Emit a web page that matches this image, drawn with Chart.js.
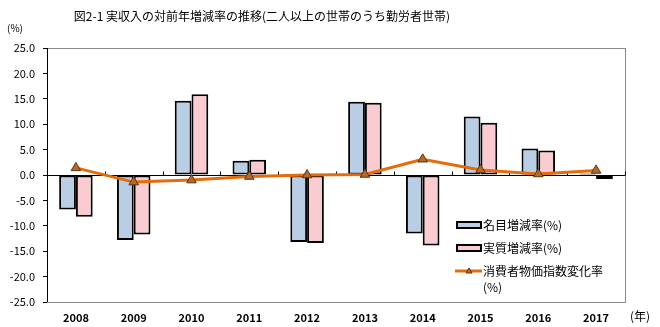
<!DOCTYPE html>
<html>
<head>
<meta charset="utf-8">
<script src="https://cdn.jsdelivr.net/npm/chart.js@4/dist/chart.umd.min.js"></script>
<style>
  html, body { margin: 0; padding: 0; background: #fff; }
  #wrap { width: 660px; height: 327px; }
</style>
</head>
<body>
<div id="wrap"><canvas id="chart" width="660" height="327"></canvas></div>
<script>
const years = ['2008', '2009', '2010', '2011', '2012', '2013', '2014', '2015', '2016', '2017'];
const nominalRate = [-6.8, -12.8, 14.6, 2.8, -13.2, 14.4, -11.5, 11.5, 5.2, 0.3];
const realRate = [-8.2, -11.7, 15.9, 3.0, -13.4, 14.2, -13.9, 10.3, 4.8, -0.8];
const cpiRate = [1.4, -1.4, -1.0, -0.3, 0.0, 0.1, 3.1, 1.0, 0.2, 0.9];
const seriesNames = ['名目増減率(%)', '実質増減率(%)', '消費者物価指数変化率', '(%)'];

const jpFont = '"Noto Sans CJK JP", "Noto Sans", sans-serif';
const blue = '#B9CDE5';
const pink = '#FACCD1';
const orange = '#E46C0A';

// title, unit labels, frame, axis ticks and legend drawn on the canvas
const extras = {
  id: 'extras',
  beforeDatasetsDraw(chart) {
    const { ctx, chartArea: a, scales } = chart;
    ctx.save();
    ctx.strokeStyle = '#8a8a8a';
    ctx.lineWidth = 1;
    ctx.strokeRect(a.left + 0.5, a.top + 0.5, a.right - a.left, a.bottom - a.top);
    ctx.strokeStyle = '#000';
    ctx.beginPath();
    ctx.moveTo(a.left + 0.5, a.top);
    ctx.lineTo(a.left + 0.5, a.bottom);
    ctx.stroke();
    // small ticks on the zero line between categories
    const y0 = Math.round(scales.y.getPixelForValue(0)) + 0.5;
    const step = (a.right - a.left) / years.length;
    ctx.beginPath();
    for (let i = 1; i <= years.length; i++) {
      const x = Math.round(a.left + step * i) + 0.5;
      ctx.moveTo(x, y0 - 4);
      ctx.lineTo(x, y0);
    }
    ctx.stroke();
    ctx.restore();
  },
  afterDraw(chart) {
    const { ctx } = chart;
    ctx.save();
    ctx.fillStyle = '#000';
    ctx.textBaseline = 'middle';
    ctx.font = '12px ' + jpFont;
    ctx.textAlign = 'center';
    ctx.fillText('図2-1 実収入の対前年増減率の推移(二人以上の世帯のうち勤労者世帯)', 262, 16);
    ctx.font = '10px ' + jpFont;
    ctx.textAlign = 'left';
    ctx.fillText('(%)', 7, 28);
    ctx.font = '12px ' + jpFont;
    ctx.fillText('(年)', 630, 316);

    // legend
    const lx = 457, tx = 483;
    const rows = [225, 248, 271];
    [blue, pink].forEach((c, i) => {
      ctx.fillStyle = c;
      ctx.fillRect(lx, rows[i] - 3, 24, 6);
      ctx.strokeStyle = '#000';
      ctx.lineWidth = 2;
      ctx.strokeRect(lx, rows[i] - 3, 24, 6);
    });
    ctx.strokeStyle = orange;
    ctx.lineWidth = 3;
    ctx.beginPath();
    ctx.moveTo(lx - 2, rows[2]);
    ctx.lineTo(lx + 25, rows[2]);
    ctx.stroke();
    ctx.fillStyle = '#B8692A';
    ctx.strokeStyle = '#5a3310';
    ctx.lineWidth = 1;
    ctx.beginPath();
    ctx.moveTo(lx + 12, rows[2] - 3);
    ctx.lineTo(lx + 15, rows[2] + 2);
    ctx.lineTo(lx + 9, rows[2] + 2);
    ctx.closePath();
    ctx.fill();
    ctx.stroke();

    ctx.fillStyle = '#000';
    ctx.font = '12px ' + jpFont;
    ctx.fillText(seriesNames[0], tx, rows[0]);
    ctx.fillText(seriesNames[1], tx, rows[1]);
    ctx.fillText(seriesNames[2], tx, rows[2]);
    ctx.fillText(seriesNames[3], tx, 287);
    ctx.restore();
  }
};

new Chart(document.getElementById('chart').getContext('2d'), {
  type: 'bar',
  data: {
    labels: years,
    datasets: [
      {
        type: 'line', label: seriesNames[2], data: cpiRate, order: 0,
        borderColor: orange, borderWidth: 3,
        pointStyle: 'triangle', pointRadius: 5.5,
        pointBackgroundColor: '#B8692A', pointBorderColor: '#5a3310', pointBorderWidth: 1
      },
      { label: seriesNames[0], data: nominalRate, order: 1, backgroundColor: blue, borderColor: '#000', borderWidth: 2, borderSkipped: false },
      { label: seriesNames[1], data: realRate, order: 1, backgroundColor: pink, borderColor: '#000', borderWidth: 2, borderSkipped: false }
    ]
  },
  options: {
    responsive: false,
    animation: false,
    datasets: { bar: { categoryPercentage: 0.58, barPercentage: 1 } },
    layout: { padding: { top: 48, right: 35, left: 0, bottom: 0 } },
    plugins: { legend: { display: false }, title: { display: false }, tooltip: { enabled: false } },
    scales: {
      x: {
        grid: { display: false },
        border: { display: false },
        ticks: { color: '#000', padding: 1, maxRotation: 0, autoSkip: false, font: { family: jpFont, size: 11, weight: 'bold' } },
        afterFit: (s) => { s.height = 25; }
      },
      y: {
        min: -25, max: 25,
        border: { display: false },
        grid: {
          color: (c) => (c.tick && c.tick.value === 0 ? '#000' : 'transparent'),
          tickColor: '#000', tickLength: 4, drawTicks: true
        },
        ticks: { stepSize: 5, color: '#000', padding: 8, font: { family: jpFont, size: 11 }, callback: (v) => v.toFixed(1) },
        afterFit: (s) => { s.width = 47; }
      }
    }
  },
  plugins: [extras]
});
</script>
</body>
</html>
